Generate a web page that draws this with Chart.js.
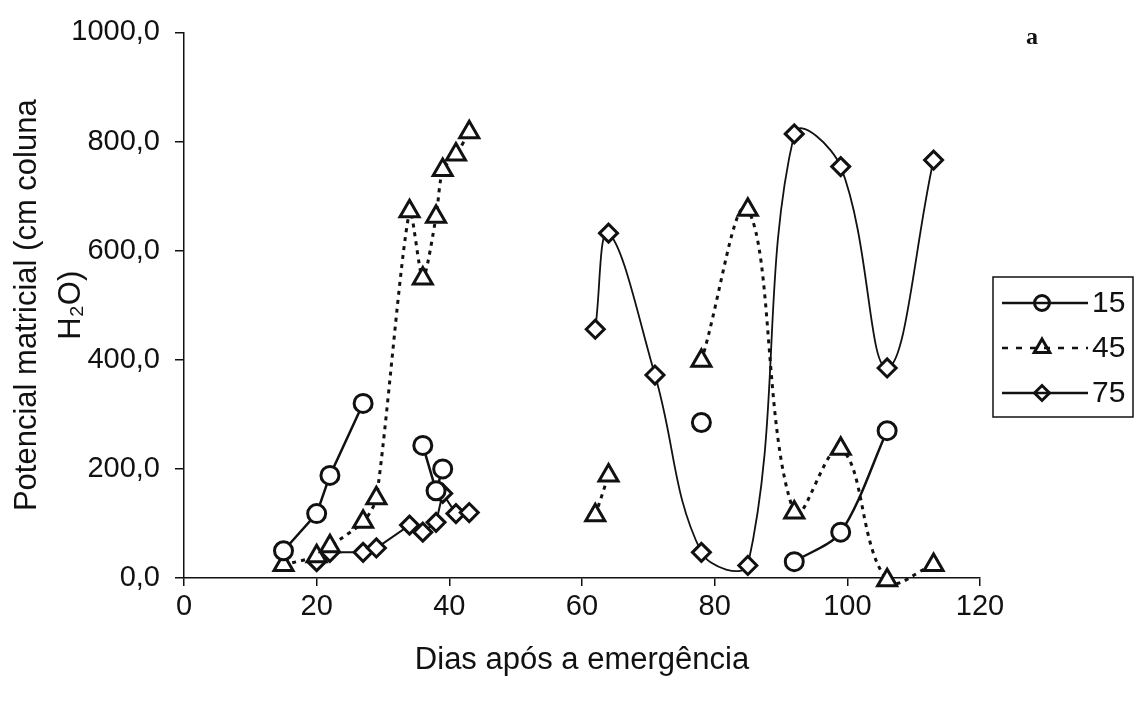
<!DOCTYPE html>
<html>
<head>
<meta charset="utf-8">
<script src="https://cdn.jsdelivr.net/npm/chart.js@4.4.1/dist/chart.umd.min.js"></script>
<style>
    html, body { margin: 0; padding: 0; background: #ffffff; }
    #wrap { width: 1139px; height: 703px; }
</style>
</head>
<body>
<div id="wrap"><canvas id="potChart"></canvas></div>
<script>

/* ==========================================
        DATA  (null = break in the line)
========================================== */

const seriesLabels = ["15", "45", "75"];

const days15 = [15, 20, 22, 27, null, 36, 38, 39, null, 78, null, 92, 99, 106];
const pot15  = [50, 118, 188, 320, null, 243, 160, 200, null, 285, null, 30, 84, 270];

const days45 = [15, 20, 22, 27, 29, 34, 36, 38, 39, 41, 43, null, 62, 64, null, 78, 85, 92, 99, 106, 113];
const pot45  = [24, 40, 58, 103, 146, 672, 549, 662, 748, 776, 817, null, 115, 188, null, 398, 675, 120, 237, -4, 24];

const days75 = [20, 22, 27, 29, 34, 36, 38, 39, 41, 43, null, 62, 64, 71, 78, 85, 92, 99, 106, 113];
const pot75  = [30, 47, 47, 55, 97, 84, 102, 155, 118, 120, null, 456, 632, 372, 47, 23, 814, 754, 385, 766];

const yTicks = [0, 200, 400, 600, 800, 1000];
const xTicks = [0, 20, 40, 60, 80, 100, 120];

/* ==========================================
        STYLES
========================================== */

const INK = "#111111";
const FONT = "'Liberation Sans', Arial, sans-serif";

const styles = [
    { pointStyle: "circle",   radius: 9,  width: 2.5, dash: [],     tension: [0, 0, 0, 0.3] },
    { pointStyle: "triangle", radius: 11, width: 3,   dash: [4, 5], tension: [0.25, 0, 0.4] },
    { pointStyle: "rectRot",  radius: 9,  width: 2,   dash: [],     tension: [0, 0.4] }
];

/* ==========================================
        SPLIT INTO SEGMENTS
========================================== */

function splitSegments(days, values) {

    const segments = [];
    let current = [];

    days.forEach((d, i) => {

        if (d === null || values[i] === null) {

            if (current.length) segments.push(current);
            current = [];

        } else {

            current.push({ x: d, y: values[i] });

        }

    });

    if (current.length) segments.push(current);

    return segments;

}

function buildDatasets() {

    const all = [
        splitSegments(days15, pot15),
        splitSegments(days45, pot45),
        splitSegments(days75, pot75)
    ];

    const datasets = [];

    all.forEach((segments, s) => {

        const st = styles[s];

        segments.forEach((seg, k) => {

            datasets.push({
                label: seriesLabels[s],
                data: seg,
                showLine: seg.length > 1,
                borderColor: INK,
                borderWidth: (s === 2 && k > 0) ? 1.8 : st.width,
                borderDash: st.dash,
                tension: st.tension[k] || 0,
                fill: false,
                pointStyle: st.pointStyle,
                pointRadius: st.radius,
                pointHoverRadius: st.radius,
                pointBorderWidth: 3,
                pointBorderColor: INK,
                pointBackgroundColor: "#ffffff",
                clip: false
            });

        });

    });

    return datasets;

}

/* ==========================================
        LEGEND + PANEL LETTER
========================================== */

const boxLegend = {

    id: "boxLegend",

    afterDraw(chart) {

        const ctx = chart.ctx;

        ctx.save();

        ctx.strokeStyle = INK;
        ctx.lineWidth = 1.5;
        ctx.setLineDash([]);
        ctx.strokeRect(993, 277, 140, 140);

        seriesLabels.forEach((label, i) => {

            const st = styles[i];
            const y = 303 + i * 45;

            ctx.beginPath();
            ctx.setLineDash(i === 1 ? [6, 8] : []);
            ctx.lineWidth = 2.5;
            ctx.moveTo(1002, y);
            ctx.lineTo(1088, y);
            ctx.stroke();
            ctx.setLineDash([]);

            ctx.fillStyle = "rgba(0,0,0,0)";
            ctx.lineWidth = 3;
            Chart.helpers.drawPoint(ctx, {
                pointStyle: st.pointStyle,
                radius: i === 1 ? 9 : 7.5,
                borderWidth: 3,
                rotation: 0
            }, 1042, y);

            ctx.fillStyle = INK;
            ctx.font = "30px " + FONT;
            ctx.textAlign = "left";
            ctx.textBaseline = "middle";
            ctx.fillText(label, 1092, y + 1);

        });

        ctx.fillStyle = INK;
        ctx.font = "bold 24px 'Liberation Serif', 'Times New Roman', serif";
        ctx.textAlign = "center";
        ctx.textBaseline = "middle";
        ctx.fillText("a", 1032, 38);

        ctx.restore();

    }

};

/* ==========================================
        CREATE CHART
========================================== */

const ctx = document.getElementById("potChart").getContext("2d");

const potChart = new Chart(ctx, {

    type: "line",

    data: { datasets: buildDatasets() },

    options: {

        responsive: true,
        maintainAspectRatio: false,
        animation: false,
        events: [],

        layout: {
            padding: { top: 30, right: 159, bottom: 0, left: 0 }
        },

        plugins: {
            legend: { display: false },
            tooltip: { enabled: false }
        },

        scales: {

            x: {
                type: "linear",
                min: 0,
                max: 120,
                afterBuildTicks: scale => {
                    scale.ticks = xTicks.map(v => ({ value: v }));
                },
                afterFit: scale => { scale.height = 125; },
                ticks: {
                    color: INK,
                    padding: 4,
                    font: { family: FONT, size: 29 },
                    maxRotation: 0
                },
                grid: {
                    drawOnChartArea: false,
                    drawTicks: true,
                    tickLength: 8,
                    color: INK,
                    lineWidth: 1.5
                },
                border: { color: INK, width: 1.5 },
                title: {
                    display: true,
                    text: "Dias após a emergência",
                    color: INK,
                    font: { family: FONT, size: 31 },
                    padding: { top: 0, bottom: 24 }
                }
            },

            y: {
                type: "linear",
                min: 0,
                max: 1000,
                afterBuildTicks: scale => {
                    scale.ticks = yTicks.map(v => ({ value: v }));
                },
                afterFit: scale => { scale.width = 184; },
                ticks: {
                    color: INK,
                    padding: 15,
                    font: { family: FONT, size: 29 },
                    callback: v => v.toFixed(1).replace(".", ",")
                },
                grid: {
                    drawOnChartArea: false,
                    drawTicks: true,
                    tickLength: 9,
                    color: INK,
                    lineWidth: 1.5
                },
                border: { color: INK, width: 1.5 },
                title: {
                    display: true,
                    text: ["Potencial matricial (cm coluna", "H₂O)"],
                    color: INK,
                    font: { family: FONT, size: 31, lineHeight: 1.4 },
                    padding: { top: 6, bottom: 0 }
                }
            }

        }

    },

    plugins: [boxLegend]

});

</script>
</body>
</html>
